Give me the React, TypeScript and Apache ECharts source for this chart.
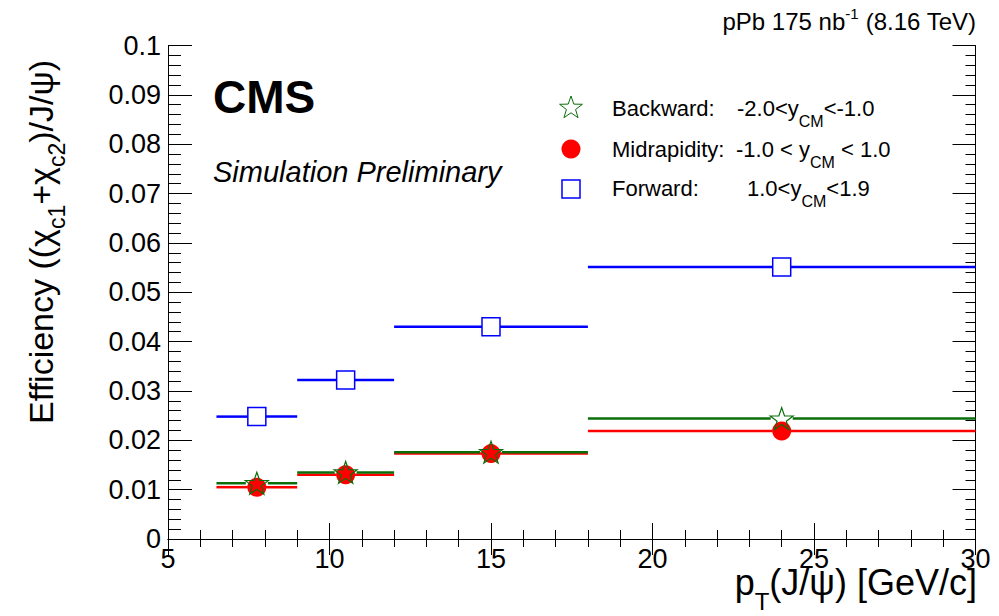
import React, { useEffect, useRef } from "react";
import * as echarts from "echarts";

// ---- data ----
const binLo = [6.5, 9, 12, 18];
const binHi = [9, 12, 18, 30];
const ptX = [7.75, 10.5, 15, 24];
const backward = [0.0113, 0.0135, 0.0176, 0.0244];
const midrapidity = [0.0105, 0.013, 0.0173, 0.0219];
const forward = [0.0248, 0.0322, 0.043, 0.0551];
const xTicks = [5, 10, 15, 20, 25, 30];
const yTicks = [0, 0.01, 0.02, 0.03, 0.04, 0.05, 0.06, 0.07, 0.08, 0.09, 0.1];

const FONT = "'Liberation Sans', Arial, Helvetica, sans-serif";
const BLUE = "#0000ff";
const RED = "#ff0000";
const GREEN = "#0a6e0a";

function starPoints(cx: number, cy: number, R: number, r: number) {
  const pts: number[][] = [];
  for (let i = 0; i < 10; i++) {
    const rad = i % 2 === 0 ? R : r;
    const a = -Math.PI / 2 + (i * Math.PI) / 5;
    pts.push([cx + rad * Math.cos(a), cy + rad * Math.sin(a)]);
  }
  return pts;
}
const starPath =
  "path://" +
  starPoints(10, 10, 10, 4)
    .map((p, i) => (i === 0 ? "M" : "L") + p[0].toFixed(3) + " " + p[1].toFixed(3))
    .join(" ") +
  " Z";

function segSeries(name: string, vals: number[], color: string, gap: number, z: number) {
  return {
    name: name + "-bins",
    type: "custom",
    z,
    xAxisIndex: 0,
    yAxisIndex: 0,
    data: vals.map((v, i) => [binLo[i], binHi[i], ptX[i], v]),
    encode: { x: [0, 1, 2], y: 3 },
    renderItem: (params: any, api: any) => {
      const lo = api.value(0);
      const hi = api.value(1);
      const x = api.value(2);
      const v = api.value(3);
      const pL = api.coord([lo, v]);
      const pR = api.coord([hi, v]);
      const pM = api.coord([x, v]);
      const style = { stroke: color, lineWidth: 2.5 };
      return {
        type: "group",
        children: [
          { type: "line", shape: { x1: pL[0], y1: pL[1], x2: pM[0] - gap, y2: pM[1] }, style },
          { type: "line", shape: { x1: pM[0] + gap, y1: pM[1], x2: pR[0], y2: pR[1] }, style },
        ],
      };
    },
  };
}

export default function App() {
  const ref = useRef<HTMLDivElement>(null);
  useEffect(() => {
    if (!ref.current) return;
    const chart = echarts.init(ref.current, null, { renderer: "svg" });
    const axisCommon = {
      type: "value",
      axisLine: { show: true, lineStyle: { color: "#000", width: 1 } },
      splitLine: { show: false },
      minorSplitLine: { show: false },
    };
    const LF = 22;
    const legendRich = {
      a1: { width: 125, fontSize: LF, fontFamily: FONT, fill: "#000" },
      a2: { width: 124, fontSize: LF, fontFamily: FONT, fill: "#000" },
      a3: { width: 135, fontSize: LF, fontFamily: FONT, fill: "#000" },
      b: { fontSize: LF, fontFamily: FONT, fill: "#000" },
      s: { fontSize: 16, fontFamily: FONT, fill: "#000", padding: [26, 0, 0, 0] },
    };
    const option: any = {
      animation: false,
      backgroundColor: "#fff",
      textStyle: { fontFamily: FONT },
      grid: { left: 168, top: 45.5, right: 23.5, bottom: 77, containLabel: false, outerBoundsMode: "none" },
      xAxis: [
        {
          ...axisCommon,
          position: "bottom",
          min: xTicks[0],
          max: xTicks[xTicks.length - 1],
          interval: 5,
          axisTick: { show: true, inside: true, length: 16, lineStyle: { color: "#000" } },
          minorTick: { show: true, splitNumber: 5, length: 9, lineStyle: { color: "#000" } },
          axisLabel: { show: true, fontSize: 27, color: "#000", fontFamily: FONT, margin: 6 },
        },
        {
          ...axisCommon,
          position: "top",
          min: xTicks[0],
          max: xTicks[xTicks.length - 1],
          interval: 5,
          axisTick: { show: true, inside: true, length: 16, lineStyle: { color: "#000" } },
          minorTick: { show: true, splitNumber: 5, length: 8, lineStyle: { color: "#000" } },
          axisLabel: { show: false },
        },
      ],
      yAxis: [
        {
          ...axisCommon,
          position: "left",
          min: yTicks[0],
          max: yTicks[yTicks.length - 1],
          interval: 0.01,
          axisTick: { show: true, inside: true, length: 24, lineStyle: { color: "#000" } },
          minorTick: { show: true, splitNumber: 5, length: 13, lineStyle: { color: "#000" } },
          axisLabel: {
            show: true,
            fontSize: 27,
            color: "#000",
            fontFamily: FONT,
            margin: 7,
            formatter: (v: number) => String(+v.toFixed(3)),
          },
        },
        {
          ...axisCommon,
          position: "right",
          min: yTicks[0],
          max: yTicks[yTicks.length - 1],
          interval: 0.01,
          axisTick: { show: true, inside: true, length: 23, lineStyle: { color: "#000" } },
          minorTick: { show: true, splitNumber: 5, length: 10, lineStyle: { color: "#000" } },
          axisLabel: { show: false },
        },
      ],
      series: [
        segSeries("Midrapidity", midrapidity, RED, 9, 2),
        segSeries("Backward", backward, GREEN, 11, 3),
        segSeries("Forward", forward, BLUE, 9, 2),
        {
          name: "Midrapidity",
          type: "scatter",
          z: 4,
          symbol: "circle",
          symbolSize: 19,
          itemStyle: { color: RED, opacity: 1 },
          data: ptX.map((x, i) => [x, midrapidity[i]]),
        },
        {
          name: "Backward",
          type: "scatter",
          z: 5,
          symbol: starPath,
          symbolKeepAspect: true,
          symbolSize: 23,
          itemStyle: { color: "rgba(0,0,0,0)", borderColor: GREEN, borderWidth: 1.2, opacity: 1 },
          data: ptX.map((x, i) => [x, backward[i]]),
        },
        {
          name: "Forward",
          type: "scatter",
          z: 5,
          symbol: "rect",
          symbolSize: 18,
          itemStyle: { color: "#fff", borderColor: BLUE, borderWidth: 1.5, opacity: 1 },
          data: ptX.map((x, i) => [x, forward[i]]),
        },
      ],
      graphic: [
        {
          type: "text",
          x: 213,
          y: 96.5,
          style: { text: "CMS", font: `bold 46px ${FONT}`, fill: "#000", verticalAlign: "middle", align: "left" },
        },
        {
          type: "text",
          x: 213,
          y: 172,
          style: {
            text: "Simulation Preliminary",
            font: `italic 29px ${FONT}`,
            fill: "#000",
            verticalAlign: "middle",
            align: "left",
          },
        },
        {
          type: "text",
          x: 976,
          y: 21.5,
          style: {
            text: "pPb 175 nb{sup|-1} (8.16 TeV)",
            fontSize: 24,
            fontFamily: FONT,
            fill: "#000",
            align: "right",
            verticalAlign: "middle",
            rich: {
              sup: { fontSize: 15, fontFamily: FONT, fill: "#000", padding: [0, 0, 16, 0] },
            },
          },
        },
        {
          type: "text",
          x: 977,
          y: 582.5,
          style: {
            text: "p{sub|T}(J/ψ) [GeV/c]",
            fontSize: 36,
            fontFamily: FONT,
            fill: "#000",
            align: "right",
            verticalAlign: "middle",
            rich: {
              sub: { fontSize: 24, fontFamily: FONT, fill: "#000", padding: [38, 0, 0, 0] },
            },
          },
        },
        {
          type: "text",
          x: 41,
          y: 60,
          rotation: Math.PI / 2,
          style: {
            text: "Efficiency ((χ{sub|c1}+χ{sub|c2})/J/ψ)",
            fontSize: 34,
            fontFamily: FONT,
            fill: "#000",
            align: "right",
            verticalAlign: "middle",
            rich: {
              sub: { fontSize: 23, fontFamily: FONT, fill: "#000", padding: [32, 0, 0, 0] },
            },
          },
        },
        // legend
        {
          type: "polygon",
          shape: { points: starPoints(571, 108, 12, 4.8) },
          style: { fill: "none", stroke: GREEN, lineWidth: 1 },
        },
        { type: "circle", shape: { cx: 571, cy: 149, r: 9.5 }, style: { fill: RED } },
        {
          type: "rect",
          shape: { x: 562, y: 180, width: 18, height: 18 },
          style: { fill: "#fff", stroke: BLUE, lineWidth: 1.5 },
        },
        {
          type: "text",
          x: 612,
          y: 108.5,
          style: {
            text: "{a1|Backward:}{b|-2.0<y}{s|CM}{b|<-1.0}",
            fontSize: LF,
            fontFamily: FONT,
            fill: "#000",
            verticalAlign: "middle",
            align: "left",
            rich: legendRich,
          },
        },
        {
          type: "text",
          x: 612,
          y: 149.5,
          style: {
            text: "{a2|Midrapidity:}{b|-1.0 < y}{s|CM}{b| < 1.0}",
            fontSize: LF,
            fontFamily: FONT,
            fill: "#000",
            verticalAlign: "middle",
            align: "left",
            rich: legendRich,
          },
        },
        {
          type: "text",
          x: 612,
          y: 188,
          style: {
            text: "{a3|Forward:}{b|1.0<y}{s|CM}{b|<1.9}",
            fontSize: LF,
            fontFamily: FONT,
            fill: "#000",
            verticalAlign: "middle",
            align: "left",
            rich: legendRich,
          },
        },
      ],
    };
    chart.setOption(option);
    return () => chart.dispose();
  }, []);
  return <div ref={ref} style={{ width: 999, height: 616, position: "absolute", left: 0, top: 0 }} />;
}
